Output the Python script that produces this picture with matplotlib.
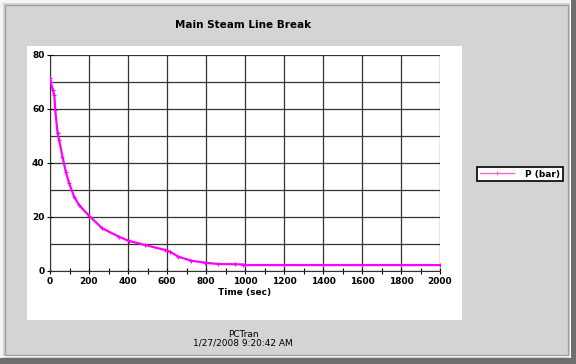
import matplotlib.pyplot as plt
from matplotlib.patches import Rectangle
from matplotlib.lines import Line2D

# values
time_sec = [0, 3, 14, 22, 27, 39, 47, 64, 81, 98, 124, 149, 200, 268, 353,
            403, 488, 590, 615, 658, 725, 793, 861, 950, 990, 1000, 1200,
            1400, 1600, 1800, 2000]
pressure_bar = [71.4, 70.1, 67.0, 65.2, 59.6, 51.0, 48.5, 42.3, 36.8, 32.5,
                27.5, 24.4, 20.5, 15.8, 12.7, 11.2, 9.6, 7.8, 7.2, 5.3, 3.8,
                3.1, 2.6, 2.5, 2.4, 2.2, 2.2, 2.2, 2.2, 2.2, 2.2]
series_label = "P (bar)"
title = "Main Steam Line Break"
x_label = "Time (sec)"
footer = "PCTran\n1/27/2008 9:20:42 AM"


def main():
    W, H = 576, 364
    fig = plt.figure(figsize=(W / 100, H / 100), dpi=100, facecolor="#d4d4d4")

    def px_rect(x0, y0, x1, y1, **kw):
        # rectangle in pixel coordinates (top-left origin)
        fig.patches.append(Rectangle((x0 / W, 1 - y1 / H), (x1 - x0) / W, (y1 - y0) / H,
                                     transform=fig.transFigure, figure=fig,
                                     zorder=-5, **kw))

    # 3D window frame
    px_rect(0, 0, W, 3, facecolor="#f4f4f4", edgecolor="none")
    px_rect(0, 0, 3, H, facecolor="#f4f4f4", edgecolor="none")
    px_rect(W - 6, 2, W - 5, H - 6, facecolor="white", edgecolor="none")
    px_rect(2, H - 8, W - 5, H - 7, facecolor="white", edgecolor="none")
    px_rect(W - 5, 0, W, H, facecolor="#6e6e6e", edgecolor="none")
    px_rect(0, H - 6, W, H, facecolor="#6e6e6e", edgecolor="none")
    px_rect(5, 5, W - 8, H - 9, facecolor="none", edgecolor="#a0a0a0", linewidth=1)
    # white plotting panel
    px_rect(27, 46, 462, 320, facecolor="white", edgecolor="none")

    ax = fig.add_axes([50 / W, 1 - 271 / H, 390 / W, 216 / H])
    ax.set_facecolor("white")
    ax.plot(time_sec, pressure_bar, color="#ff00ff", linewidth=1.6,
            marker="+", markersize=2.5, markeredgewidth=0.8, zorder=3)

    ax.set_xlim(0, 2000)
    ax.set_ylim(0, 80)
    ax.set_xticks(range(0, 2001, 200))
    ax.set_xticks(range(100, 2000, 200), minor=True)
    ax.set_yticks(range(0, 81, 20))
    ax.set_yticks(range(10, 80, 20), minor=True)
    ax.grid(True, which="major", color="#333333", linewidth=0.9)
    ax.grid(True, axis="y", which="minor", color="#333333", linewidth=0.9)
    ax.tick_params(which="both", direction="inout", length=4, width=0.8,
                   labelsize=6.5, pad=2)
    ax.tick_params(axis="y", which="minor", length=0)
    for lbl in ax.get_xticklabels() + ax.get_yticklabels():
        lbl.set_fontweight("bold")
    for s in ["top", "right"]:
        ax.spines[s].set_visible(False)
    for s in ["left", "bottom"]:
        ax.spines[s].set_color("#333333")
    ax.set_xlabel(x_label, fontsize=6.5, fontweight="bold", labelpad=2)

    fig.text(243 / W, 1 - 25 / H, title, ha="center", va="center",
             fontsize=7.5, fontweight="bold")
    fig.text(243 / W, 1 - 339 / H, footer, ha="center", va="center",
             fontsize=6.5, linespacing=1.0)

    handle = Line2D([], [], color="#ff66cc", linewidth=1, marker="+",
                    markersize=3, markeredgewidth=0.8)
    leg = fig.legend([handle], [series_label], loc="center",
                     bbox_to_anchor=(520 / W, 1 - 174 / H), fontsize=6.5,
                     frameon=True, fancybox=False, handlelength=3.8,
                     borderpad=0.3, handletextpad=1.2, borderaxespad=0)
    leg.get_frame().set_edgecolor("black")
    leg.get_frame().set_facecolor("white")
    leg.get_frame().set_alpha(1)
    leg.get_frame().set_linewidth(1.2)
    for t in leg.get_texts():
        t.set_fontweight("bold")

    fig.savefig("out.png", dpi=100, facecolor=fig.get_facecolor())


if __name__ == "__main__":
    main()
